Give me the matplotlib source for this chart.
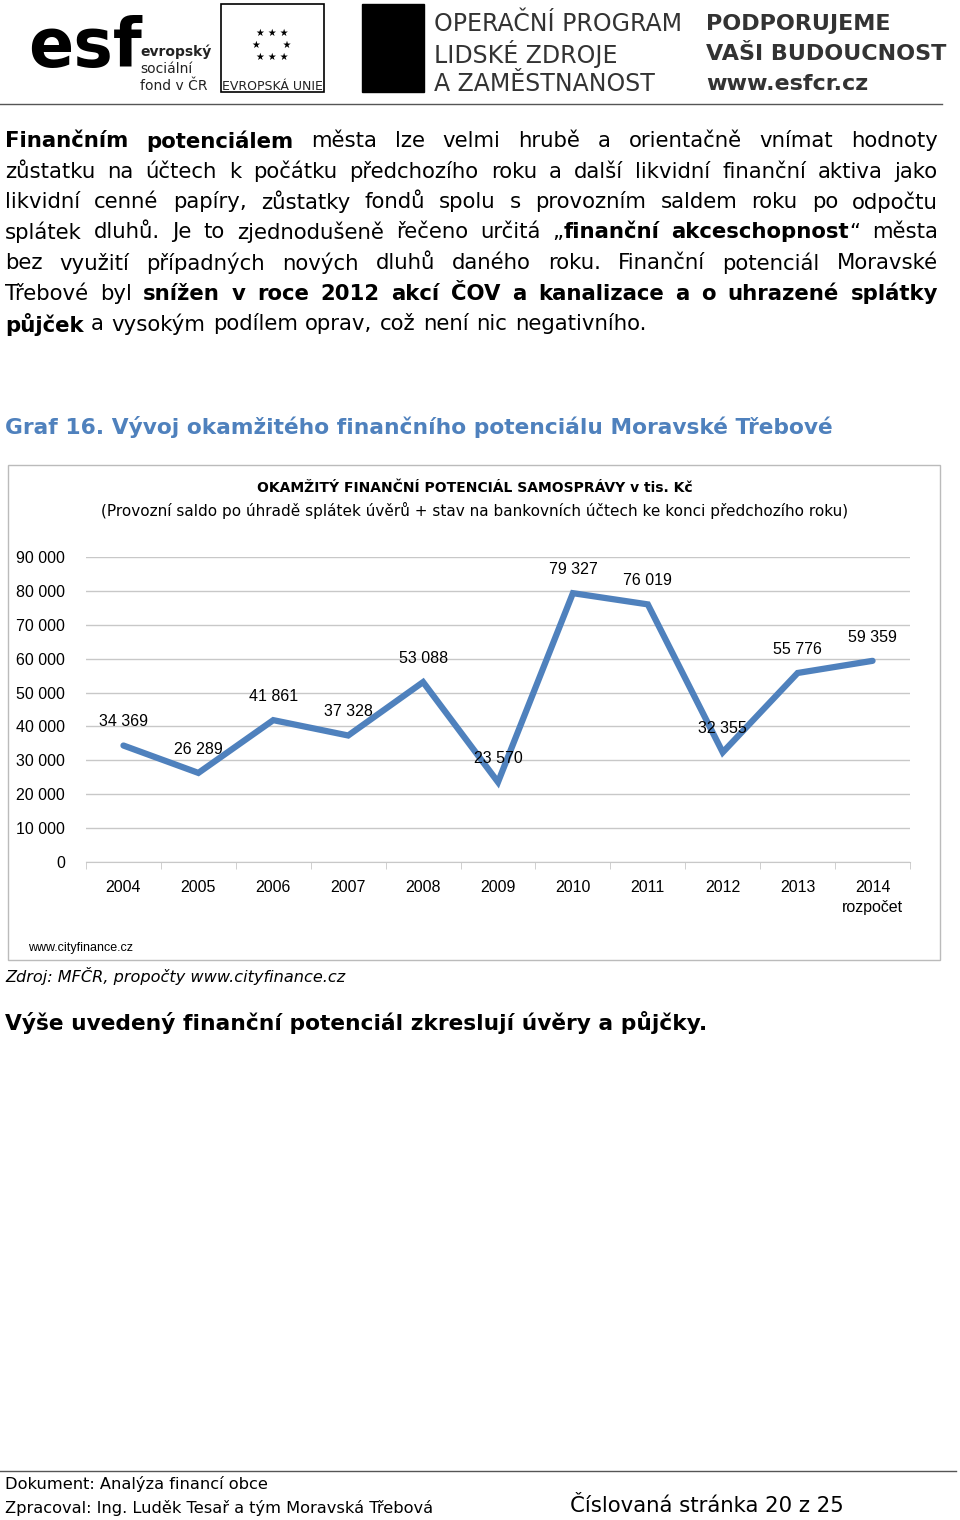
import matplotlib
matplotlib.use('Agg')
import matplotlib.pyplot as plt
from matplotlib.patches import Rectangle
from matplotlib.lines import Line2D

years = ['2004', '2005', '2006', '2007', '2008', '2009', '2010', '2011', '2012', '2013', '2014\nrozpočet']
values = [34369, 26289, 41861, 37328, 53088, 23570, 79327, 76019, 32355, 55776, 59359]
value_labels = ['34 369', '26 289', '41 861', '37 328', '53 088', '23 570', '79 327', '76 019', '32 355', '55 776', '59 359']
y_ticks = list(range(0, 90001, 10000))

W, H = 960, 1520
fig = plt.figure(figsize=(W / 100, H / 100), dpi=100)
fig.patch.set_facecolor('white')
renderer = fig.canvas.get_renderer()


def px(x, y):
    return x / W, 1 - y / H


def text(x, y, s, **kw):
    return fig.text(*px(x, y), s, **kw)


# --- header ---
text(28, 48, 'esf', fontsize=48, fontweight='bold', color='black', va='center', family='DejaVu Sans')
text(140, 52, 'evropský', fontsize=10, fontweight='bold', color='#222', va='center')
text(140, 69, 'sociální', fontsize=10, color='#222', va='center')
text(140, 86, 'fond v ČR', fontsize=10, color='#222', va='center')
fig.add_artist(Rectangle(px(221, 92), 103 / W, 88 / H, transform=fig.transFigure, fill=False, ec='black', lw=1.2))
text(272, 45, '★ ★ ★\n★       ★\n★ ★ ★', fontsize=7, ha='center', va='center', color='black')
text(272, 87, 'EVROPSKÁ UNIE', fontsize=9, ha='center', va='center', color='#222')
fig.add_artist(Rectangle(px(362, 92), 62 / W, 88 / H, transform=fig.transFigure, color='black'))
for i, s in enumerate(['OPERAČNÍ PROGRAM', 'LIDSKÉ ZDROJE', 'A ZAMĚSTNANOST']):
    text(434, 24 + i * 30, s, fontsize=17, color='#333', va='center', family='Liberation Sans Narrow')
for i, s in enumerate(['PODPORUJEME', 'VAŠI BUDOUCNOST', 'www.esfcr.cz']):
    text(706, 24 + i * 30, s, fontsize=16, fontweight='bold', color='#333', va='center', family='Liberation Sans Narrow')
fig.add_artist(Line2D([0, 942 / W], [1 - 104 / H] * 2, transform=fig.transFigure, color='#555', lw=1))

# --- justified paragraph ---
para = [
    [('Finančním potenciálem', True), ('města lze velmi hrubě a orientačně vnímat hodnoty', False)],
    [('zůstatku na účtech k počátku předchozího roku a další likvidní finanční aktiva jako', False)],
    [('likvidní cenné papíry, zůstatky fondů spolu s provozním saldem roku po odpočtu', False)],
    [('splátek dluhů. Je to zjednodušeně řečeno určitá „', False), ('finanční akceschopnost', True), ('“ města', False)],
    [('bez využití případných nových dluhů daného roku. Finanční potenciál Moravské', False)],
    [('Třebové byl', False), ('snížen v roce 2012 akcí ČOV a kanalizace a o uhrazené splátky', True)],
    [('půjček', True), ('a vysokým podílem oprav, což není nic negativního.', False)],
]
FS = 15.3
for li, segs in enumerate(para):
    y = 141 + li * 30.5
    words = []
    for si, (s, b) in enumerate(segs):
        parts = s.split(' ')
        for j, w in enumerate(parts):
            if w == '':
                continue
            glue = (j == 0 and si > 0 and (words[-1][0].endswith('„') or s.startswith('“')))
            words.append((w, b, glue))
    arts, widths = [], []
    for w, b, g in words:
        t = text(0, y, w, fontsize=FS, fontweight='bold' if b else 'normal', va='center', family='DejaVu Sans')
        widths.append(t.get_window_extent(renderer).width)
        arts.append(t)
    ngaps = sum(1 for w in words[1:] if not w[2])
    last = li == len(para) - 1
    gap = 7.5 if last else (938 - 5 - sum(widths)) / max(ngaps, 1)
    x = 5
    for k, (t, wd) in enumerate(zip(arts, widths)):
        if k > 0 and not words[k][2]:
            x += gap
        t.set_x(x / W)
        x += wd

text(5, 427, 'Graf 16. Vývoj okamžitého finančního potenciálu Moravské Třebové', fontsize=15.7,
     fontweight='bold', color='#4f81bd', va='center', family='DejaVu Sans')

# --- chart frame ---
fig.add_artist(Rectangle(px(8, 960), 932 / W, 495 / H, transform=fig.transFigure, fill=False, ec='#bbbbbb', lw=1))
text(475, 488, 'OKAMŽITÝ FINANČNÍ POTENCIÁL SAMOSPRÁVY v tis. Kč', fontsize=10, fontweight='bold',
     ha='center', va='center', family='DejaVu Sans Condensed')
text(475, 510, '(Provozní saldo po úhradě splátek úvěrů + stav na bankovních účtech ke konci předchozího roku)',
     fontsize=11, ha='center', va='center', family='DejaVu Sans Condensed')

ax = fig.add_axes([86 / W, 1 - 862 / H, (910 - 86) / W, (862 - 557) / H])
x = list(range(len(years)))
ax.plot(x, values, color='#4f81bd', lw=4.5, solid_capstyle='round', solid_joinstyle='miter')
ax.set_xlim(-0.5, len(years) - 0.5)
ax.set_ylim(0, 90000)
ax.set_yticks(y_ticks)
ax.set_yticklabels([f'{v:,}'.replace(',', ' ') for v in y_ticks], family='Liberation Sans', fontsize=11.5)
ax.set_xticks(x)
ax.set_xticklabels(years, family='Liberation Sans', fontsize=11.5, linespacing=1.45, va='top')
ax.tick_params(axis='y', length=0, pad=15)
ax.tick_params(axis='x', length=0, pad=13)
ax.grid(axis='y', color='#c8c8c8', lw=1)
ax.set_axisbelow(True)
for s in ['top', 'right', 'left']:
    ax.spines[s].set_visible(False)
ax.spines['bottom'].set_color('#c8c8c8')
ax.set_xticks([i - 0.5 for i in range(len(years) + 1)], minor=True)
ax.tick_params(axis='x', which='minor', length=5, color='#c8c8c8')
for xi, v, lab in zip(x, values, value_labels):
    ax.annotate(lab, (xi, v), xytext=(0, 17), textcoords='offset points', ha='center', va='center',
                fontsize=11.5, family='Liberation Sans')

text(28, 948, 'www.cityfinance.cz', fontsize=9, va='center', family='Liberation Sans')
text(5, 976, 'Zdroj: MFČR, propočty www.cityfinance.cz', fontsize=11.6, style='italic', va='center', family='DejaVu Sans')
text(5, 1022, 'Výše uvedený finanční potenciál zkreslují úvěry a půjčky.', fontsize=15.7, fontweight='bold',
     va='center', family='DejaVu Sans')

# --- footer ---
fig.add_artist(Line2D([0, 956 / W], [1 - 1471 / H] * 2, transform=fig.transFigure, color='#555', lw=1))
text(5, 1484, 'Dokument: Analýza financí obce', fontsize=11.7, va='center', family='DejaVu Sans')
text(5, 1508, 'Zpracoval: Ing. Luděk Tesař a tým Moravská Třebová', fontsize=11.7, va='center', family='DejaVu Sans')
text(570, 1506, 'Číslovaná stránka 20 z 25', fontsize=15.3, va='center', family='DejaVu Sans')

fig.savefig('out.png', dpi=100)
